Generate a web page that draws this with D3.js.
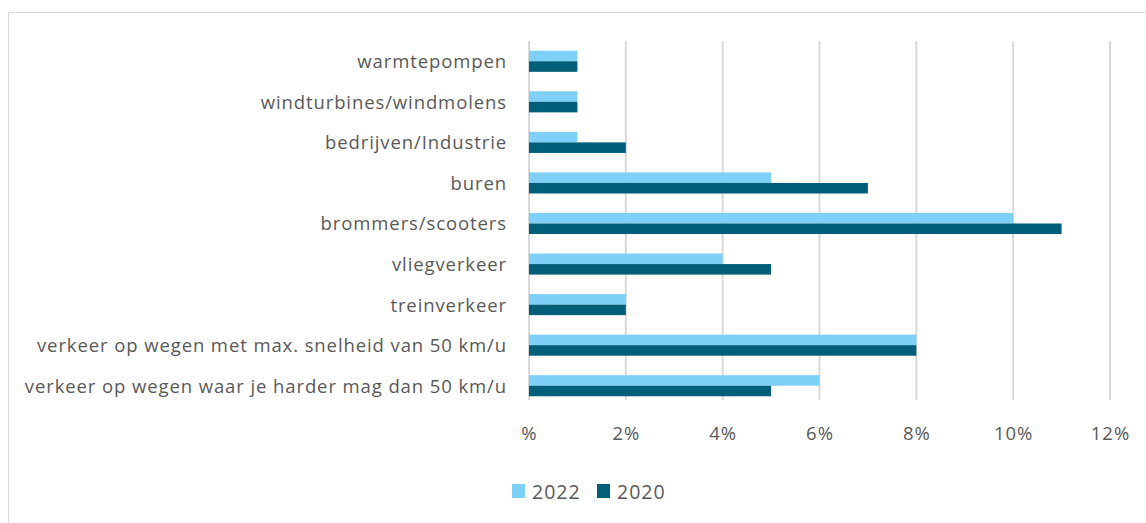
<!DOCTYPE html>
<html>
<head>
<meta charset="utf-8">
<script src="https://cdn.jsdelivr.net/npm/d3@7"></script>
<style>
  body { margin: 0; background: #fff; }
  text { font-family: "Open Sans", "Noto Sans", sans-serif; fill: #595959; }
</style>
</head>
<body>
<svg id="chart" width="1146" height="523"></svg>
<script>
var categories = [
  'warmtepompen ',
  'windturbines/windmolens',
  'bedrijven/Industrie',
  'buren',
  'brommers/scooters',
  'vliegverkeer',
  'treinverkeer',
  'verkeer op wegen met max. snelheid van 50 km/u',
  'verkeer op wegen waar je harder mag dan 50 km/u'
];
var values2022 = [1, 1, 1, 5, 10, 4, 2, 8, 6];
var values2020 = [1, 1, 2, 7, 11, 5, 2, 8, 5];
var seriesNames = ['2022', '2020'];
var tickValues = [0, 2, 4, 6, 8, 10, 12];
var tickLabels = ['%', '2%', '4%', '6%', '8%', '10%', '12%'];

var colors = { '2022': '#7fd0f6', '2020': '#005e78' };

var svg = d3.select('#chart');

// outer chart frame (runs off the right and bottom of the picture)
svg.append('rect')
  .attr('x', 8.5).attr('y', 12.5)
  .attr('width', 1160).attr('height', 540)
  .attr('fill', 'none')
  .attr('stroke', '#d9d9d9');

var x = d3.scaleLinear().domain([0, 12]).range([529, 1110]);
var y = d3.scaleBand().domain(categories).range([41, 406]).paddingInner(0.48).paddingOuter(0.24);

// gridlines
svg.append('g').selectAll('line')
  .data(tickValues)
  .join('line')
  .attr('x1', function (d) { return x(d); })
  .attr('x2', function (d) { return x(d); })
  .attr('y1', 41).attr('y2', 400)
  .attr('stroke', '#d9d9d9')
  .attr('stroke-width', 2);

var rows = categories.map(function (c, i) {
  return { cat: c, '2022': values2022[i], '2020': values2020[i] };
});

var inner = d3.scaleBand().domain(seriesNames).range([0, y.bandwidth()]);

seriesNames.forEach(function (s) {
  svg.append('g').selectAll('rect')
    .data(rows)
    .join('rect')
    .attr('x', x(0))
    .attr('y', function (d) { return y(d.cat) + inner(s); })
    .attr('width', function (d) { return x(d[s]) - x(0); })
    .attr('height', inner.bandwidth())
    .attr('fill', colors[s]);
});

// category labels
var yAxis = svg.append('g')
  .attr('transform', 'translate(' + 507 + ',1)')
  .call(d3.axisLeft(y).tickSize(0).tickPadding(0));
yAxis.select('.domain').remove();
yAxis.selectAll('text')
  .attr('font-size', 18.5)
  .attr('letter-spacing', 0.9)
  .attr('fill', '#595959')
  .attr('font-family', '"Open Sans", sans-serif');

// value axis labels
var xAxis = svg.append('g')
  .attr('transform', 'translate(0,' + 427 + ')')
  .call(d3.axisBottom(x).tickValues(tickValues)
    .tickFormat(function (d, i) { return tickLabels[i]; })
    .tickSize(0).tickPadding(0));
xAxis.select('.domain').remove();
xAxis.selectAll('text')
  .attr('font-size', 18.5)
  .attr('letter-spacing', 1)
  .attr('fill', '#595959')
  .attr('font-family', '"Open Sans", sans-serif');

// legend
var legend = svg.append('g').attr('transform', 'translate(512,484)');
var legendX = [0, 85];
seriesNames.forEach(function (s, i) {
  var g = legend.append('g').attr('transform', 'translate(' + legendX[i] + ',0)');
  g.append('rect').attr('width', 13).attr('height', 14).attr('fill', colors[s]);
  g.append('text').attr('x', 20).attr('y', 14.5).attr('font-size', 19.5)
    .attr('letter-spacing', 1).text(s);
});
</script>
</body>
</html>
